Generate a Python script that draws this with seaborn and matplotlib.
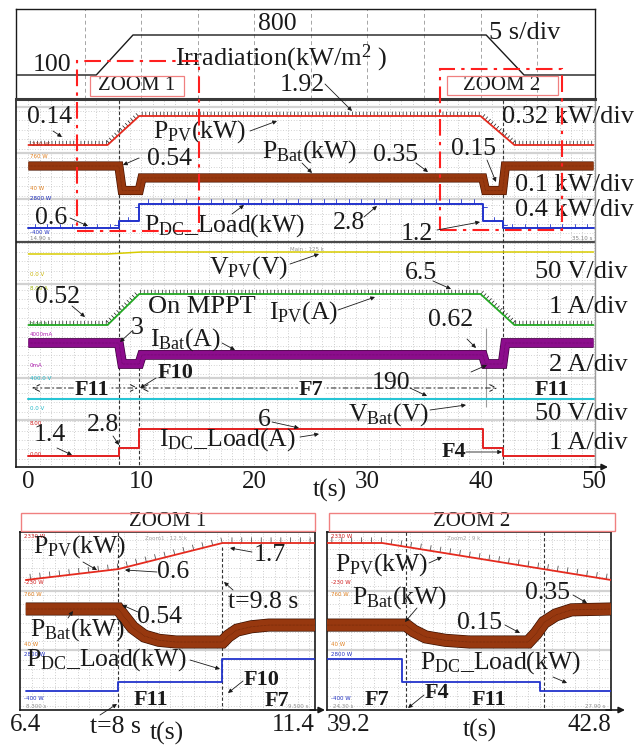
import numpy as np
import matplotlib.pyplot as plt
import matplotlib.patheffects as pe
from matplotlib.patches import Rectangle, FancyArrowPatch
import seaborn as sns

# ---------------- values ----------------
# irradiation (W/m2)
t_irr = [-1.1, 6.0, 9.25, 40.5, 43.85, 50.1]
irr = [100, 100, 800, 800, 100, 100]

# full record 0-50 s
t_pv = [0, 7.0, 9.8, 40.0, 43.0, 50]
p_pv = [0.14, 0.14, 1.92, 1.92, 0.14, 0.14]        # kW
i_pv = [0.52, 0.52, 6.5, 6.5, 0.52, 0.52]          # A
t_bat = [0, 8.0, 8.3, 9.8, 10.05, 40.2, 40.45, 41.95, 42.2, 50]
p_bat = [0.54, 0.54, 0.15, 0.15, 0.35, 0.35, 0.15, 0.15, 0.54, 0.54]   # kW
i_bat = [3.0, 3.0, 0.62, 0.62, 1.65, 1.65, 0.62, 0.62, 3.0, 3.0]       # A
t_load = [0, 8.0, 8.0, 9.8, 9.8, 40.2, 40.2, 41.95, 41.95, 50]
p_load = [0.6, 0.6, 1.2, 1.2, 2.8, 2.8, 1.2, 1.2, 0.6, 0.6]            # kW
i_load = [1.4, 1.4, 2.8, 2.8, 6.0, 6.0, 2.8, 2.8, 1.4, 1.4]            # A
t_vpv = [0, 7.0, 10.0, 50]
v_pv = [330, 330, 340, 340]                        # V
t_vbat = [0, 50]
v_bat = [190, 190]                                 # V

# zoom 1 (6.4 - 11.4 s)
t_z1_pv = [6.4, 8.0, 9.8, 11.4]
p_z1_pv = [0.14, 0.6, 1.7, 1.7]
t_z1_bat = [6.4, 8.0, 8.1, 8.25, 8.45, 8.7, 9.0, 9.8, 9.9, 10.05, 10.3, 10.6, 11.4]
p_z1_bat = [0.54, 0.54, 0.45, 0.32, 0.22, 0.17, 0.15, 0.15, 0.22, 0.29, 0.33, 0.35, 0.35]
t_z1_load = [6.4, 8.0, 8.0, 9.8, 9.8, 11.4]
p_z1_load = [0.6, 0.6, 1.2, 1.2, 2.8, 2.8]

# zoom 2 (39.2 - 42.8 s)
t_z2_pv = [39.2, 39.9, 42.8]
p_z2_pv = [1.7, 1.7, 0.14]
t_z2_bat = [39.2, 40.2, 40.3, 40.45, 40.7, 41.0, 41.75, 41.85, 41.95, 42.1, 42.3, 42.8]
p_z2_bat = [0.35, 0.35, 0.28, 0.21, 0.17, 0.15, 0.15, 0.25, 0.38, 0.47, 0.53, 0.54]
t_z2_load = [39.2, 40.15, 40.15, 41.9, 41.9, 42.8]
p_z2_load = [2.8, 2.8, 1.2, 1.2, 0.6, 0.6]

# switching instants and operating modes
t_switch = [8.0, 9.8, 40.2, 41.95]
modes = [("F11", 0.3, 9.7, 5.6), ("F7", 9.9, 41.5, 25.0), ("F11", 42.3, 50.2, 46.3)]

main_ticks = [0, 10, 20, 30, 40, 50]
z1_ticks = [6.4, 11.4]
z2_ticks = [39.2, 42.8]

# ---------------- style ----------------
sns.set_theme(style="white", rc={"text.color": "k", "xtick.color": "k", "axes.edgecolor": "k"})
plt.rcParams["font.family"] = ["Liberation Serif", "DejaVu Serif"]
plt.rcParams["mathtext.fontset"] = "custom"
plt.rcParams["mathtext.rm"] = "Liberation Serif"
plt.rcParams["mathtext.it"] = "Liberation Serif:italic"
plt.rcParams["mathtext.bf"] = "Liberation Serif:bold"

W, H = 635, 747
FS = 18.5
fig = plt.figure(figsize=(W / 100, H / 100), dpi=100)

C_PPV, C_BAT, C_DC = "#e52a1e", "#97380f", "#2233cc"
C_VPV, C_IPV, C_IBAT, C_VBAT, C_IDC = "#d8cc00", "#22a822", "#8c0d8c", "#27c4d4", "#e32020"


def frac(x0, y0, x1, y1):
    return [x0 / W, 1 - y1 / H, (x1 - x0) / W, (y1 - y0) / H]


def layer(rect, xlim, anchor_a, anchor_b):
    # transparent axes; anchors are (pixel row, value) pairs fixing the channel scale
    (ya, va), (yb, vb) = anchor_a, anchor_b
    k = (ya - yb) / (vb - va)
    base = ya + k * va
    ax = fig.add_axes(frac(*rect))
    ax.set_xlim(xlim)
    ax.set_ylim((base - rect[3]) / k, (base - rect[1]) / k)
    ax.set_axis_off()
    return ax


def trace(ax, t, v, color, lw, **kw):
    sns.lineplot(x=t, y=v, ax=ax, color=color, lw=lw, sort=False, estimator=None, **kw)


def ripple(spacing, length, color="k", lw=0.5):
    return [pe.TickedStroke(spacing=spacing, angle=90, length=length, foreground=color, linewidth=lw),
            pe.Normal()]


def band(ax, t, v, color, lw, dark):
    # wide ripple band of the battery traces, darker rim
    trace(ax, t, v, color, lw, solid_joinstyle="miter", solid_capstyle="butt",
          path_effects=[pe.Stroke(linewidth=lw + 1.0, foreground=dark), pe.Normal()])
    trace(ax, t, v, dark, 0.5, alpha=0.6, ls=(0, (0.8, 1.2)))


def screen(rect, xlim, ticks, labels, vgrid, hgrid, dividers):
    ax = fig.add_axes(frac(*rect))
    ax.set_xlim(xlim)
    ax.set_ylim(rect[3], rect[1])
    for x in vgrid:
        ax.axvline(x, color="#bcbcbc", lw=0.6, ls=(0, (1, 2.2)), zorder=0)
    for y in hgrid:
        ax.axhline(y, color="#c4c4c4", lw=0.6, ls=(0, (1, 2.2)), zorder=0)
    for y in dividers:
        ax.axhline(y, color="#d2d2d2", lw=1.6, zorder=0.5)
    ax.set_xticks(ticks, labels=labels)
    ax.set_yticks([])
    ax.tick_params(axis="x", length=0, pad=3, labelsize=18)
    for s in ax.spines.values():
        s.set_color("k")
        s.set_linewidth(1.2)
    return ax


def label(x, y, s, size=FS, **kw):
    kw.setdefault("ha", "center")
    kw.setdefault("va", "center")
    fig.text(x / W, 1 - y / H, s, fontsize=size, **kw)


def pointer(x0, y0, x1, y1, ms=6, lw=0.6):
    fig.add_artist(FancyArrowPatch((x0 / W, 1 - y0 / H), (x1 / W, 1 - y1 / H),
                                   transform=fig.transFigure, arrowstyle="-|>",
                                   mutation_scale=ms, lw=lw, color="k",
                                   shrinkA=0, shrinkB=0, zorder=6))


def frame(x0, y0, x1, y1, **kw):
    fig.add_artist(Rectangle((x0 / W, 1 - y1 / H), (x1 - x0) / W, (y1 - y0) / H,
                             transform=fig.transFigure, fill=False, **kw))


def tiny(x, y, s, color):
    fig.text(x / W, 1 - y / H, s, fontsize=4.0, color=color, family="DejaVu Sans",
             ha="left", va="center", zorder=2)


MAIN = (16, 99, 595, 467)
MAIN_XLIM = (-1.1, 50.13)

# ---------------- main oscilloscope screen ----------------
scr = screen(MAIN, MAIN_XLIM, main_ticks, [str(t) for t in main_ticks],
             vgrid=np.arange(0, 51, 1), hgrid=np.arange(111, 465, 9.4),
             dividers=[107, 153, 199, 284, 378, 420])
scr.axhline(242, color="#4a4a4a", lw=1.6, zorder=0.6)
scr.spines["top"].set_visible(False)
scr.spines["right"].set_color("#9a9a9a")
scr.spines["right"].set_linewidth(1.0)
scr.vlines([t_switch[0], t_switch[3]], 100, 467, color="#333333", lw=0.8, ls=(0, (3, 2)))
scr.vlines(t_switch[1], 367, 467, color="#333333", lw=0.8, ls=(0, (3, 2)))
scr.vlines(t_switch[2] + 0.3, 328, 407, color="#9a9a9a", lw=0.8)
for name, t0, t1, tl in modes:
    scr.annotate("", xy=(t1, 388), xytext=(t0, 388),
                 arrowprops=dict(arrowstyle="<->", lw=0.7, color="k",
                                 ls=(0, (5, 3, 1.2, 3)), shrinkA=0, shrinkB=0))
    scr.text(tl, 390, name, fontsize=16, fontweight="bold", ha="center", va="center",
             bbox=dict(fc="white", ec="none", pad=0.3))

# top box: irradiation profile
top = layer((16, 9, 595, 99), MAIN_XLIM, (75, 100), (35, 800))
top.set_axis_on()
top.set_xticks([])
top.set_yticks([])
for s in top.spines.values():
    s.set_color("k")
    s.set_linewidth(1.0)
top.spines["bottom"].set_linewidth(2.2)
top.spines["bottom"].set_color("#3a3a3a")
for t in range(5, 50, 5):
    top.axvline(t, color="#a5a5a5", lw=0.7, ls=(0, (4, 3)), zorder=0)
trace(top, t_irr, irr, "k", 1.0)

# upper screen: powers
ax = layer(MAIN, MAIN_XLIM, (145, 0.14), (116, 1.92))
trace(ax, t_pv, p_pv, C_PPV, 1.3, path_effects=ripple(2.6, 1.1))
ax = layer(MAIN, MAIN_XLIM, (166, 0.54), (190.5, 0.15))
band(ax, t_bat, p_bat, C_BAT, 5.6, "#4a1400")
ax = layer(MAIN, MAIN_XLIM, (228, 0.6), (203.8, 2.8))
trace(ax, t_load, p_load, C_DC, 1.4, path_effects=ripple(9, 0.35, C_DC, 0.6))

# lower screen: voltages and currents
ax = layer(MAIN, MAIN_XLIM, (254, 330), (252, 340))
trace(ax, t_vpv, v_pv, C_VPV, 1.1)
ax = layer(MAIN, MAIN_XLIM, (325, 0.52), (294, 6.5))
trace(ax, t_pv, i_pv, C_IPV, 1.3, path_effects=ripple(2.6, 1.1))
ax = layer(MAIN, MAIN_XLIM, (343, 3.0), (364, 0.62))
band(ax, t_bat, i_bat, C_IBAT, 6.0, "#3d003d")
ax = layer(MAIN, MAIN_XLIM, (399, 190), (389, 240))
trace(ax, t_vbat, v_bat, C_VBAT, 1.5)
ax = layer(MAIN, MAIN_XLIM, (456, 1.4), (429.3, 6.0))
trace(ax, t_load, i_load, C_IDC, 1.4)

pointer(590, 467, 608, 467, ms=9, lw=1.2)

# channel read-outs on the screen edge
for s, x, y, c in [("-230 W", 30, 144, "#b03020"), ("760 W", 30, 156, "#e08020"),
                   ("40 W", 30, 188, "#e08020"), ("2800 W", 30, 199, "#2030c0"),
                   ("-400 W", 30, 232, "#2030c0"), ("14.90 s", 30, 239, "#808080"),
                   ("35.10 s", 572, 239, "#808080"), ("Main : 125 k", 290, 250, "#909090"),
                   ("0.0 V", 30, 274, "#c8b400"), ("8.00 A", 30, 288, "#9ab000"),
                   ("0.00 A", 30, 324, "#20a020"), ("4000mA", 30, 334, "#b020b0"),
                   ("0mA", 30, 365, "#b020b0"), ("400.0 V", 30, 378, "#20b8c8"),
                   ("0.0 V", 30, 408, "#20b8c8"), ("8.00", 30, 423, "#d02020"),
                   ("0.00", 30, 455, "#d02020")]:
    tiny(x, y, s, c)

# ---------------- zoom panels ----------------
Z1 = (20, 532, 315, 710)
Z1_XLIM = (6.3, 11.4)
Z2 = (327, 532, 611, 710)
Z2_XLIM = (39.2, 42.8)

for rect, xlim, ticks, grid_step, sw, tpv, ppv, tb, pb, tl, pl in [
        (Z1, Z1_XLIM, z1_ticks, 0.2, [(t_switch[0], 532), (t_switch[1], 547)],
         t_z1_pv, p_z1_pv, t_z1_bat, p_z1_bat, t_z1_load, p_z1_load),
        (Z2, Z2_XLIM, z2_ticks, 0.15, [(t_switch[2], 532), (t_switch[3], 532)],
         t_z2_pv, p_z2_pv, t_z2_bat, p_z2_bat, t_z2_load, p_z2_load)]:
    zs = screen(rect, xlim, ticks, [str(t) for t in ticks],
                vgrid=np.arange(xlim[0] + grid_step, xlim[1], grid_step),
                hgrid=np.arange(540, 708, 9.2), dividers=[591, 650])
    labs = zs.get_xticklabels()
    if xlim == Z1_XLIM:
        labs[1].set_ha("right")
    else:
        labs[0].set_ha("left")
        labs[1].set_ha("right")
    for t, y0 in sw:
        zs.vlines(t, y0, 710, color="#333333", lw=0.8, ls=(0, (3, 2)))
    ax = layer(rect, xlim, (580, 0.14), (543, 1.7))
    trace(ax, tpv, ppv, C_PPV, 1.3, path_effects=ripple(7, 0.55, "#555555", 0.6))
    ax = layer(rect, xlim, (609, 0.54), (642, 0.15))
    band(ax, tb, pb, C_BAT, 8.4, "#3a1000")
    ax = layer(rect, xlim, (691, 0.6), (659, 2.8))
    trace(ax, tl, pl, C_DC, 1.3)

pointer(310, 710, 325, 710, ms=9, lw=1.2)
pointer(606, 710, 625, 710, ms=9, lw=1.2)

for s, x, y, c in [("2330 W", 24, 536, "#d02020"), ("Zoom1 : 12.5 k", 145, 538, "#a0a0a0"),
                   ("-230 W", 24, 582, "#d02020"), ("760 W", 24, 595, "#e08020"),
                   ("40 W", 24, 645, "#e08020"), ("2800 W", 24, 655, "#2030c0"),
                   ("-400 W", 24, 699, "#2030c0"), ("8.300 s", 26, 706, "#909090"),
                   ("9.500 s", 288, 706, "#909090"),
                   ("2330 W", 331, 536, "#d02020"), ("Zoom2 : 9 k", 447, 538, "#a0a0a0"),
                   ("-230 W", 331, 582, "#d02020"), ("760 W", 331, 595, "#e08020"),
                   ("40 W", 331, 645, "#e08020"), ("2800 W", 331, 655, "#2030c0"),
                   ("-400 W", 331, 699, "#2030c0"), ("24.30 s", 333, 706, "#909090"),
                   ("27.90 s", 585, 706, "#909090")]:
    tiny(x, y, s, c)

# ---------------- frames ----------------
frame(90, 76, 184, 96, edgecolor="#f08080", lw=0.9, zorder=4)
frame(447, 76, 558, 95, edgecolor="#f08080", lw=0.9, zorder=4)
frame(21, 513, 315, 531, edgecolor="#f08080", lw=1.0, zorder=4)
frame(329, 513, 615, 531, edgecolor="#f08080", lw=1.0, zorder=4)
dashdot = (0, (8, 3, 1.6, 3))
frame(77, 61, 199, 231, edgecolor="#ff1f1f", lw=1.5, ls=dashdot, zorder=5)
frame(440, 69, 562, 230, edgecolor="#ff1f1f", lw=1.5, ls=dashdot, zorder=5)

# ---------------- annotations: main ----------------
label(277, 24, "800")
label(525, 33, "5 s/div", size=19)
label(281, 58, r"Irradiation(kW/m$^{\mathrm{2}}$ )", size=19)
label(52, 65, "100")
label(137, 86, "ZOOM 1", size=15)
label(502, 86, "ZOOM 2", size=15)

label(302, 85, "1.92")
pointer(325, 84, 352, 111)
label(50, 117, "0.14")
pointer(53, 131, 62, 137)
label(200, 132, r"$\mathrm{P_{PV}(kW)}$")
pointer(250, 131, 277, 121)
label(169, 159, "0.54")
pointer(139, 158, 123, 165)
label(310, 152, r"$\mathrm{P_{Bat}(kW)}$")
pointer(302, 163, 312, 173)
label(395, 155, "0.35")
pointer(416, 163, 428, 172)
label(473, 149, "0.15")
pointer(487, 160, 496, 182)
label(51, 218, "0.6")
pointer(70, 218, 88, 226)
label(225, 226, r"$\mathrm{P_{DC}\_Load(kW)}$")
pointer(232, 214, 244, 205)
label(349, 223, "2.8")
pointer(364, 217, 377, 206)
label(417, 234, "1.2")
pointer(437, 230, 480, 222)

label(634, 117, "0.32 kW/div", size=19, ha="right")
label(634, 185, "0.1 kW/div", size=19, ha="right")
label(634, 210, "0.4 kW/div", size=19, ha="right")
label(628, 272, "50 V/div", size=19, ha="right")
label(628, 307, "1 A/div", size=19, ha="right")
label(628, 365, "2 A/div", size=19, ha="right")
label(628, 414, "50 V/div", size=19, ha="right")
label(628, 443, "1 A/div", size=19, ha="right")

label(248, 268, r"$\mathrm{V_{PV}(V)}$")
pointer(290, 264, 319, 254)
label(421, 273, "6.5")
pointer(433, 281, 451, 289)
label(58, 297, "0.52")
pointer(72, 306, 85, 317)
label(202, 307, "On MPPT", size=19)
label(303, 313, r"$\mathrm{I_{PV}(A)}$")
pointer(338, 310, 375, 297)
label(137, 328, "3")
pointer(132, 331, 120, 342)
label(185, 340, r"$\mathrm{I_{Bat}(A)}$")
pointer(222, 343, 235, 350)
label(451, 320, "0.62")
pointer(467, 339, 476, 348)
pointer(471, 372, 487, 365)
label(176, 373, "F10", size=16, fontweight="bold")
pointer(156, 378, 140, 388)
label(391, 383, "190")
pointer(410, 388, 427, 396)
label(388, 415, r"$\mathrm{V_{Bat}(V)}$")
pointer(430, 410, 466, 405)
label(103, 425, "2.8")
pointer(113, 436, 119, 445)
label(50, 435, "1.4")
pointer(57, 448, 72, 455)
label(264, 420, "6")
pointer(272, 422, 299, 428)
label(227, 440, r"$\mathrm{I_{DC}\_Load(A)}$")
pointer(300, 437, 319, 434)
label(454, 452, "F4", size=16, fontweight="bold")
pointer(466, 452, 502, 452)
label(330, 490, "t(s)")

# ---------------- annotations: zooms ----------------
label(168, 522, "ZOOM 1", size=15)
label(80, 547, r"$\mathrm{P_{PV}(kW)}$")
pointer(83, 562, 97, 570)
label(173, 572, "0.6")
pointer(157, 572, 125, 570)
label(270, 555, "1.7")
pointer(252, 552, 230, 548)
label(263, 602, "t=9.8 s")
pointer(233, 590, 224, 582)
label(160, 617, "0.54")
pointer(138, 612, 122, 605)
label(78, 630, r"$\mathrm{P_{Bat}(kW)}$")
pointer(68, 618, 73, 611)
label(107, 660, r"$\mathrm{P_{DC}\_Load(kW)}$")
pointer(190, 660, 220, 669)
label(151, 700, "F11", size=16, fontweight="bold")
label(262, 680, "F10", size=16, fontweight="bold")
label(277, 701, "F7", size=16, fontweight="bold")
pointer(243, 681, 228, 693)
label(115, 727, "t=8 s")
pointer(100, 715, 117, 704)
label(167, 733, "t(s)")

label(472, 522, "ZOOM 2", size=15)
label(382, 565, r"$\mathrm{P_{PV}(kW)}$")
pointer(429, 563, 442, 557)
label(400, 598, r"$\mathrm{P_{Bat}(kW)}$")
pointer(417, 608, 405, 622)
label(480, 623, "0.15")
pointer(505, 625, 520, 633)
label(548, 593, "0.35")
pointer(573, 595, 587, 603)
label(501, 663, r"$\mathrm{P_{DC}\_Load(kW)}$")
pointer(553, 677, 567, 683)
label(377, 700, "F7", size=16, fontweight="bold")
label(437, 693, "F4", size=16, fontweight="bold")
pointer(424, 695, 408, 708)
label(489, 700, "F11", size=16, fontweight="bold")
label(480, 730, "t(s)")

fig.savefig("out.png", dpi=100)
